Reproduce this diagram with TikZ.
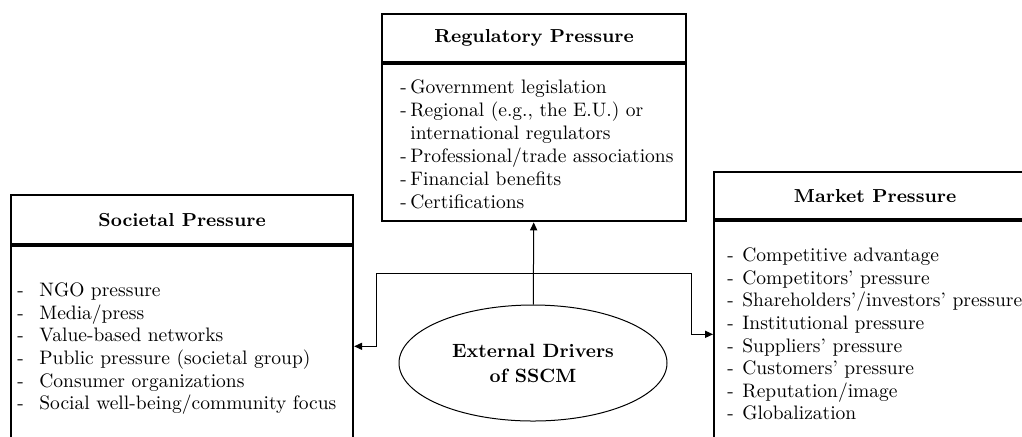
\documentclass[tikz,border=0pt]{standalone}
\usetikzlibrary{arrows.meta, positioning, shapes.geometric}
\newlength{\dashgap}
\newcommand{\dashitem}[1]{\makebox[\dashgap][l]{-}#1}

\begin{document}
\begin{tikzpicture}[
    x={(0.5pt,0)}, y={(0,-0.5pt)},
    frame/.style={draw, line width=1.1pt, inner sep=0pt},
    head/.style={frame, font=\fontsize{9.4}{11}\selectfont\bfseries},
    items/.style={inner sep=0pt, anchor=north west, align=left,
      font=\fontsize{9.75}{11.3}\selectfont,
      execute at begin node={\setlength{\dashgap}{#1}}},
    wire/.style={line width=0.5pt},
    tip/.style={wire, -{Triangle[length=4pt, width=3.6pt]}},
  ]
  \useasboundingbox (0,0) rectangle (1022,436);
  \clip (0,0) rectangle (1022,436);
  % the three pressure panels
  \foreach \nm/\px/\py/\pw/\hh/\bh/\ttl in {%
     reg/381/13/152/24/78.5/{Regulatory Pressure},
     soc/10/194/171/24.5/100/{Societal Pressure},
     mkt/713/171/161/23.5/113/{Market Pressure}%
  }{
    \node[head, anchor=north west, minimum width=\pw pt, minimum height=\hh pt] (\nm head) at (\px,\py) {\ttl};
    \node[frame, anchor=north, minimum width=\pw pt, minimum height=\bh pt] (\nm body) at (\nm head.south) {};
  }
  \node[items=5pt, font=\fontsize{9.75}{11.55}\selectfont] (reglist) at (400,79) {\dashitem{Government legislation}\\
    \dashitem{Regional (e.g., the E.U.) or}\\
    \hspace*{5pt}international regulators\\
    \dashitem{Professional/trade associations}\\
    \dashitem{Financial benefits}\\
    \dashitem{Certifications}};
  \node[items=11pt] (soclist) at (17,282.5) {\dashitem{NGO pressure}\\
    \dashitem{Media/press}\\
    \dashitem{Value-based networks}\\
    \dashitem{Public pressure (societal group)}\\
    \dashitem{Consumer organizations}\\
    \dashitem{Social well-being/community focus}};
  \node[items=7.5pt] (mktlist) at (727,247.5) {\dashitem{Competitive advantage}\\
    \dashitem{Competitors’ pressure}\\
    \dashitem{Shareholders’/investors’ pressure}\\
    \dashitem{Institutional pressure}\\
    \dashitem{Suppliers’ pressure}\\
    \dashitem{Customers’ pressure}\\
    \dashitem{Reputation/image}\\
    \dashitem{Globalization}};
  % centre and links
  \node[draw, ellipse, wire, minimum width=134pt, minimum height=58pt, inner sep=0pt,
        align=center, font=\fontsize{9.6}{12.5}\selectfont\bfseries] (drivers) at (533,363)
        {External Drivers\\of SSCM};
  \coordinate (lfork) at (376,273);
  \coordinate (rfork) at (691,273);
  \draw[tip] (drivers) -- (regbody);
  \draw[wire] (lfork) -- (rfork);
  \draw[tip] (lfork) |- (socbody.east);
  \draw[tip] (rfork) |- (mktbody.west);
\end{tikzpicture}
\end{document}
